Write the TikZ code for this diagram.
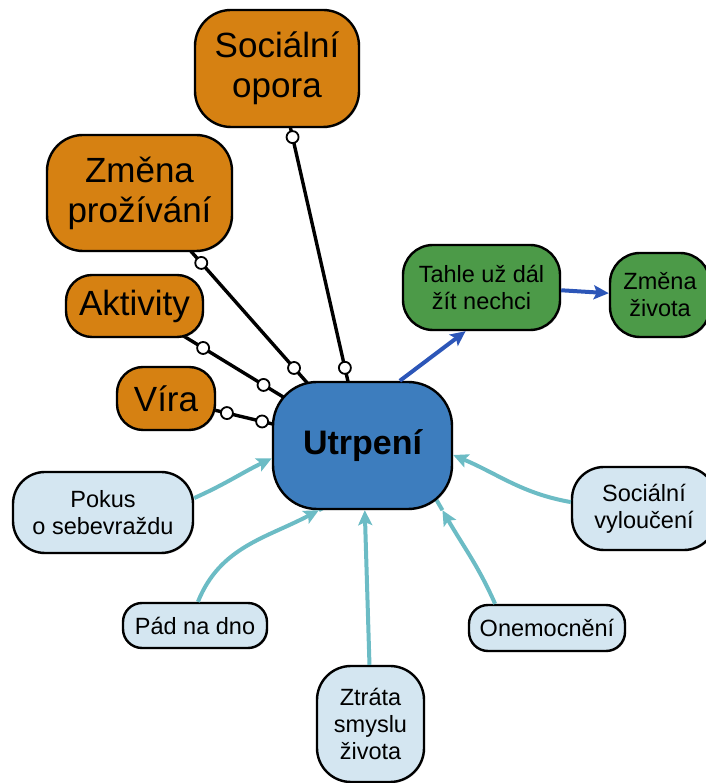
\documentclass[tikz,border=0pt]{standalone}
\usepackage{fontspec}
\setmainfont{Liberation Sans}
\usetikzlibrary{arrows.meta,shadows,backgrounds}

\definecolor{orangebox}{HTML}{D68112}
\definecolor{bluebox}{HTML}{3D7DBE}
\definecolor{greenbox}{HTML}{4C9A48}
\definecolor{palebox}{HTML}{D4E6F1}
\definecolor{tealarrow}{HTML}{6CBCC5}
\definecolor{bluearrow}{HTML}{2C56B8}

\tikzset{
  box/.style={draw=black, line width=2.4pt, align=center, inner sep=0pt,
    text=black, drop shadow={shadow xshift=1.2pt, shadow yshift=-1.2pt, opacity=0.3}},
  bigbox/.style={box, fill=orangebox, font=\fontsize{35}{40}\selectfont},
  corebox/.style={box, fill=bluebox, rounded corners=44pt,
    font=\fontsize{34}{40}\selectfont\bfseries},
  greenbx/.style={box, fill=greenbox, rounded corners=30pt,
    font=\fontsize{23.5}{27}\selectfont},
  palebx/.style={box, fill=palebox, font=\fontsize{23.5}{27}\selectfont},
  support/.style={draw=black, line width=3.4pt},
  dot/.style={circle, draw=black, fill=white, line width=1.8pt,
    minimum size=12pt, inner sep=0pt},
  causeline/.style={draw=tealarrow, line width=4pt},
  cause/.style={causeline, -{Stealth[length=15pt, width=14pt, inset=3pt]}},
  outcome/.style={draw=bluearrow, line width=4pt,
    -{Stealth[length=15pt, width=14pt, inset=3pt]}},
}

\begin{document}
\begin{tikzpicture}[x=1pt, y=1pt]
\useasboundingbox (0,0) rectangle (705,783);

% central node
\node[corebox, minimum width=179pt, minimum height=127pt] (utr) at (362.5,337.5) {Utrpení};

% supporting factors
\node[bigbox, rounded corners=36pt, minimum width=164pt, minimum height=117pt] (opora) at (277,714.5) {Sociální\\opora};
\node[bigbox, rounded corners=36pt, minimum width=185pt, minimum height=116pt] (prozivani) at (139.5,590) {Změna\\prožívání};
\node[bigbox, rounded corners=26pt, minimum width=137pt, minimum height=62pt] (aktivity) at (134.5,477) {Aktivity};
\node[bigbox, rounded corners=26pt, minimum width=98pt, minimum height=63pt] (vira) at (166,384.5) {Víra};

% outcomes
\node[greenbx, minimum width=157pt, minimum height=85pt] (tahle) at (481.5,495.5) {Tahle už dál\\žít nechci};
\node[greenbx, minimum width=100pt, minimum height=84pt] (zmena) at (660,488) {Změna\\života};

% causes
\node[palebx, rounded corners=32pt, minimum width=180pt, minimum height=81pt] (pokus) at (103,270.5) {Pokus\\o sebevraždu};
\node[palebx, rounded corners=19pt, minimum width=144pt, minimum height=45pt] (pad) at (195,157.5) {Pád na dno};
\node[palebx, rounded corners=34pt, minimum width=107pt, minimum height=116pt] (ztrata) at (370.5,59) {Ztráta\\smyslu\\života};
\node[palebx, rounded corners=19pt, minimum width=156pt, minimum height=46pt] (onem) at (547,155) {Onemocnění};
\node[palebx, rounded corners=32pt, minimum width=144pt, minimum height=83pt] (vyl) at (644,274.5) {Sociální\\vyloučení};

% supporting links run behind the boxes
\begin{pgfonlayer}{background}
\draw[support] (opora.center) -- (utr.center)
  node[dot, pos=0.182] {} node[dot, pos=0.794] {};
\draw[support] (prozivani.center) -- (utr.center)
  node[dot, pos=0.277] {} node[dot, pos=0.693] {};
\draw[support] (aktivity.center) -- (utr.center)
  node[dot, pos=0.301] {} node[dot, pos=0.566] {};
\draw[support] (vira.center) -- (utr.center)
  node[dot, pos=0.310] {} node[dot, pos=0.489] {};
% arrow shafts continue past their heads up to the rounded outline
\draw[causeline] (utr.321) -- ++(120:28pt);
\draw[causeline] (utr.236) -- ++(28:12pt);
\end{pgfonlayer}

% outcome arrows
\draw[outcome] (utr.60) -- (tahle.250);
\draw[outcome] (tahle.-2) -- (zmena.178);

% cause arrows
\draw[cause] (pokus.9) to[out=24, in=206] (utr.188);
\draw[cause] (pad.83) to[out=68, in=208] (utr.236);
\draw[cause] (ztrata.91) -- (utr.272);
\draw[cause] (onem.155) to[out=114, in=300] (utr.321);
\draw[cause] (vyl.175) to[out=170, in=337] (utr.354);
\end{tikzpicture}
\end{document}
